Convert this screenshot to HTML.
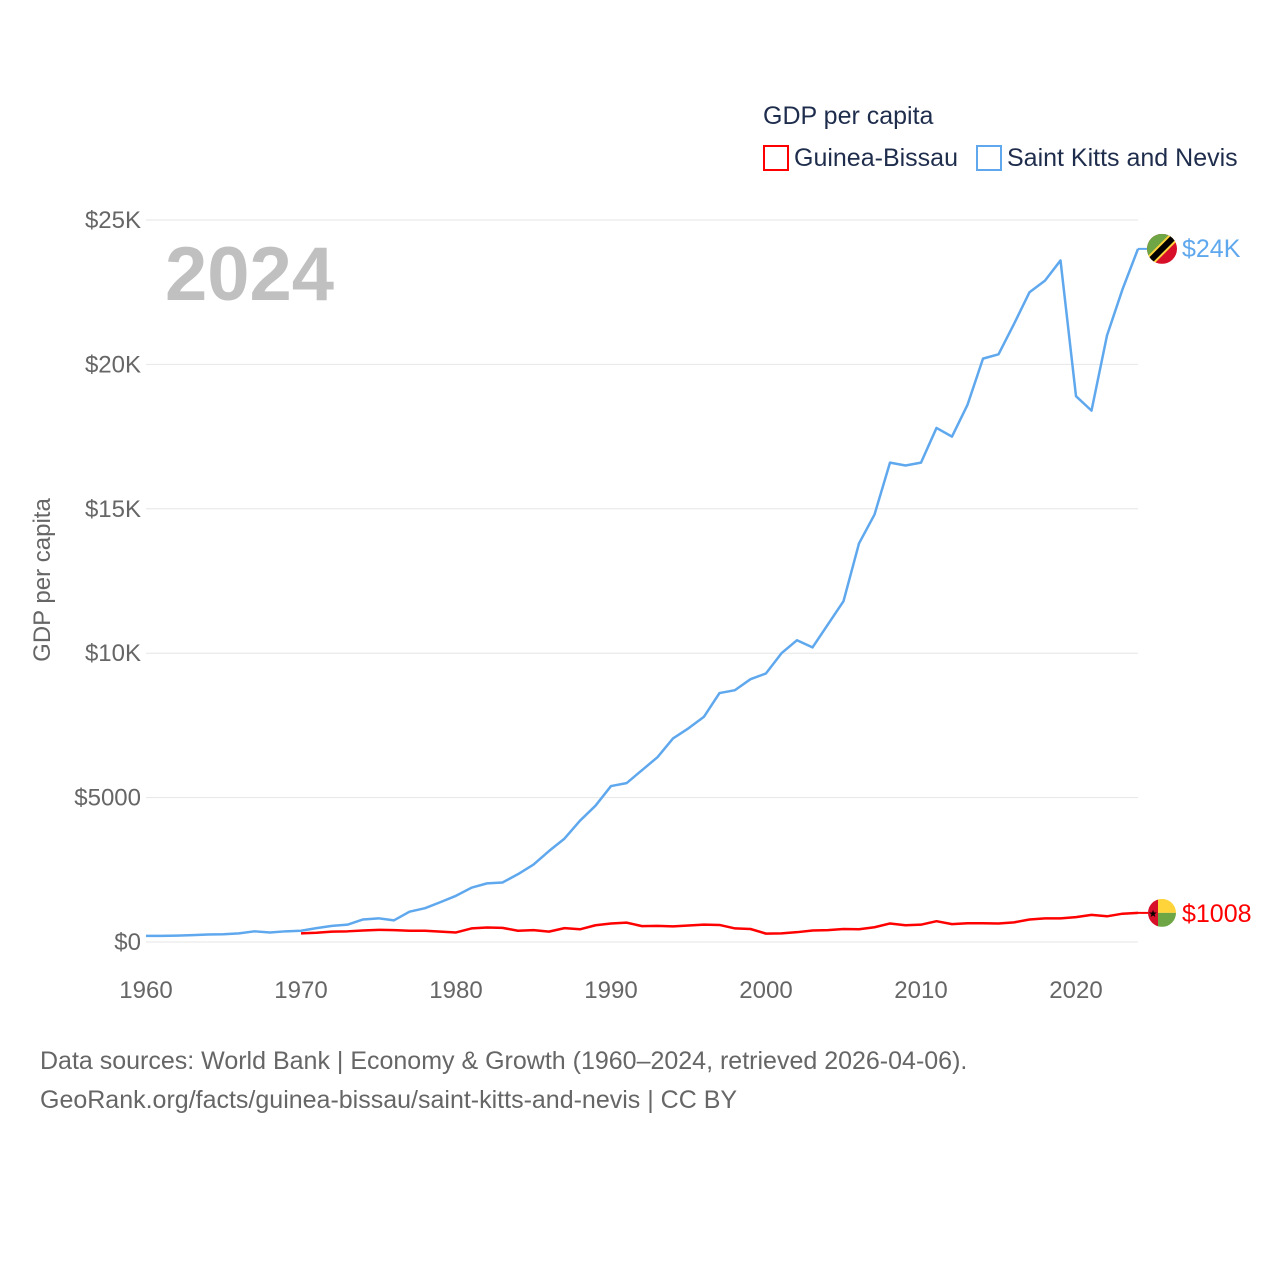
<!DOCTYPE html>
<html><head><meta charset="utf-8"><style>
body{margin:0;background:#fff;font-family:"Liberation Sans",sans-serif}
svg text{font-family:"Liberation Sans",sans-serif}
</style></head><body>
<svg id="chart" width="1280" height="1280">
<text x="763" y="124" font-size="25" fill="#1f2d4d">GDP per capita</text>
<g><rect x="764" y="146" width="24" height="24" fill="none" stroke="#ff0000" stroke-width="2"/><text x="794" y="166" font-size="25" fill="#1f2d4d">Guinea-Bissau</text></g>
<g><rect x="977" y="146" width="24" height="24" fill="none" stroke="#5fa8ee" stroke-width="2"/><text x="1007" y="166" font-size="25" fill="#1f2d4d">Saint Kitts and Nevis</text></g>
<text x="165" y="300" font-size="76" font-weight="bold" fill="#c0c0c0">2024</text>
<text transform="translate(50,580) rotate(-90)" text-anchor="middle" font-size="24" fill="#666">GDP per capita</text>
<g id="grid"></g><g id="lines"></g><g id="ends"></g>
<text x="40" y="1069" font-size="25" fill="#666">Data sources: World Bank | Economy &amp; Growth (1960–2024, retrieved 2026-04-06).</text>
<text x="40" y="1108" font-size="25" fill="#666">GeoRank.org/facts/guinea-bissau/saint-kitts-and-nevis | CC BY</text>
</svg>
<script>
const kittsYears=[];for(let y=1960;y<=2024;y++)kittsYears.push(y);
const kittsValues=[0.21,0.21,0.22,0.24,0.26,0.27,0.30,0.37,0.33,0.37,0.39,0.48,0.56,0.60,0.78,0.82,0.75,1.05,1.17,1.38,1.6,1.88,2.03,2.06,2.35,2.68,3.15,3.58,4.2,4.72,5.4,5.5,5.95,6.4,7.05,7.4,7.8,8.62,8.72,9.1,9.3,10.0,10.45,10.2,11.0,11.8,13.8,14.8,16.6,16.5,16.6,17.8,17.5,18.6,20.2,20.35,21.4,22.5,22.9,23.6,18.9,18.4,21.0,22.6,24.0];
const guineaYears=[];for(let y=1970;y<=2024;y++)guineaYears.push(y);
const guineaValues=[0.3,0.32,0.36,0.37,0.40,0.42,0.41,0.39,0.39,0.36,0.33,0.47,0.50,0.49,0.39,0.41,0.36,0.48,0.44,0.58,0.64,0.67,0.55,0.56,0.54,0.57,0.60,0.59,0.47,0.45,0.29,0.30,0.34,0.40,0.41,0.45,0.44,0.51,0.64,0.58,0.60,0.72,0.62,0.65,0.65,0.64,0.68,0.78,0.82,0.82,0.86,0.94,0.89,0.98,1.008];
const yTicks=[0,5,10,15,20,25];
const yTickLabels=["$0","$5000","$10K","$15K","$20K","$25K"];
const xTicks=[1960,1970,1980,1990,2000,2010,2020];
const endLabels=["$24K","$1008"];
const NS="http://www.w3.org/2000/svg";
const X=y=>146+(y-1960)*15.5, Y=v=>942-v*28.88;
function mk(t,a,p){const e=document.createElementNS(NS,t);for(const k in a)e.setAttribute(k,a[k]);p.appendChild(e);return e;}
const grid=document.getElementById('grid');
yTicks.forEach((v,i)=>{
 const l=mk('line',{x1:146,x2:1138,y1:Y(v),y2:Y(v),stroke:'#e6e6e6','stroke-width':1},grid);
 
 
 const t=mk('text',{x:141,y:Y(v)+8,'text-anchor':'end','font-size':24,fill:'#666'},grid);t.textContent=yTickLabels[i];
 
 
});
xTicks.forEach(v=>{
 const t=mk('text',{x:X(v),y:998,'text-anchor':'middle','font-size':24,fill:'#666'},grid);t.textContent=v;
 
 
});
const lines=document.getElementById('lines');
function line(xs,vs,c,name){
 const d=xs.map((x,i)=>(i?'L':'M')+X(x)+','+Y(vs[i])).join('');
 const p=mk('path',{d:d,fill:'none',stroke:c,'stroke-width':2.5,'stroke-linejoin':'round'},lines);
 
 
}
line(kittsYears,kittsValues,'#5fa8ee','line-saint-kitts');
line(guineaYears,guineaValues,'#ff0000','line-guinea-bissau');
const ends=document.getElementById('ends');
const ky=Y(kittsValues[kittsValues.length-1]), gy=Y(guineaValues[guineaValues.length-1]);
mk('line',{x1:1138,x2:1150,y1:ky,y2:ky,stroke:'#5fa8ee','stroke-width':2},ends);
mk('line',{x1:1138,x2:1150,y1:gy,y2:gy,stroke:'#ff0000','stroke-width':2},ends);
// kitts flag
const kf=mk('g',{},ends);


mk('clipPath',{id:'ck'},kf).appendChild(document.createElementNS(NS,'circle'));
const c1=document.querySelector('#ck circle');c1.setAttribute('cx',1162);c1.setAttribute('cy',ky);c1.setAttribute('r',15);
const kg=mk('g',{'clip-path':'url(#ck)'},kf);
mk('rect',{x:1147,y:ky-15,width:30,height:30,fill:'#d70f28'},kg);
mk('polygon',{points:`1147,${ky-15} 1177,${ky-15} 1147,${ky+15}`,fill:'#6ea545'},kg);
mk('line',{x1:1147,y1:ky+15,x2:1177,y2:ky-15,stroke:'#ffd43b','stroke-width':10},kg);
mk('line',{x1:1147,y1:ky+15,x2:1177,y2:ky-15,stroke:'#000','stroke-width':6},kg);
const kt=mk('text',{x:1182,y:ky+8,'font-size':25,fill:'#5fa8ee'},ends);kt.textContent=endLabels[0];


// guinea flag
const gf=mk('g',{},ends);


const cp=mk('clipPath',{id:'cg'},gf);mk('circle',{cx:1162,cy:gy,r:14},cp);
const gg=mk('g',{'clip-path':'url(#cg)'},gf);
mk('rect',{x:1148,y:gy-14,width:10,height:28,fill:'#d70f28'},gg);
mk('rect',{x:1158,y:gy-14,width:18,height:14,fill:'#ffd43b'},gg);
mk('rect',{x:1158,y:gy,width:18,height:14,fill:'#6ea545'},gg);
const st=mk('text',{x:1153,y:gy+4,'font-size':10,'text-anchor':'middle',fill:'#000'},gf);st.textContent='★';
const gt=mk('text',{x:1182,y:gy+9,'font-size':25,fill:'#ff0000'},ends);gt.textContent=endLabels[1];


</script>
</body></html>
